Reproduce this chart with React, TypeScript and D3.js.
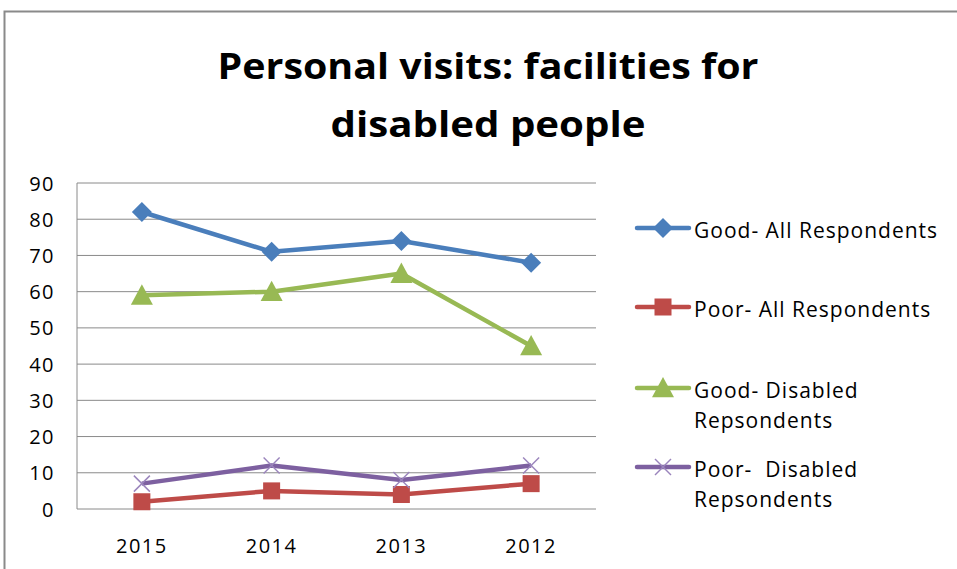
import React from "react";
import * as d3 from "d3";

const categories = ["2015", "2014", "2013", "2012"];
const goodAll = [82, 71, 74, 68];
const poorAll = [2, 5, 4, 7];
const goodDisabled = [59, 60, 65, 45];
const poorDisabled = [7, 12, 8, 12];
const yTicks = [0, 10, 20, 30, 40, 50, 60, 70, 80, 90];
const titleLines = ["Personal visits: facilities for", "disabled people"];

type Series = { name: string[]; values: number[]; color: string; marker: string };
const series: Series[] = [
  { name: ["Good- All Respondents"], values: goodAll, color: "#4A7EBB", marker: "diamond" },
  { name: ["Poor- All Respondents"], values: poorAll, color: "#BE4B48", marker: "square" },
  { name: ["Good- Disabled", "Repsondents"], values: goodDisabled, color: "#98B954", marker: "triangle" },
  { name: ["Poor-  Disabled", "Repsondents"], values: poorDisabled, color: "#7D60A0", marker: "x" },
];

const FONT = "'Open Sans', 'Liberation Sans', sans-serif";

function Marker({ type, x, y, color }: { type: string; x: number; y: number; color: string }) {
  if (type === "diamond") {
    const r = 10;
    return <path d={`M${x},${y - r}L${x + r},${y}L${x},${y + r}L${x - r},${y}Z`} fill={color} />;
  }
  if (type === "square") {
    const r = 8.5;
    return <rect x={x - r} y={y - r} width={2 * r} height={2 * r} fill={color} />;
  }
  if (type === "triangle") {
    const r = 11;
    return <path d={`M${x},${y - r}L${x + r},${y + r * 0.85}L${x - r},${y + r * 0.85}Z`} fill={color} />;
  }
  const r = 8;
  return (
    <g stroke="#9A84BC" strokeWidth={1.5}>
      <line x1={x - r} y1={y - r} x2={x + r} y2={y + r} />
      <line x1={x - r} y1={y + r} x2={x + r} y2={y - r} />
    </g>
  );
}

export default function App() {
  const W = 957, H = 569;
  const left = 77, right = 596, top = 183, bottom = 509;
  const x = d3.scaleBand<string>().domain(categories).range([left, right]);
  const y = d3.scaleLinear().domain([0, 90]).range([bottom, top]);
  const cx = (c: string) => (x(c) as number) + x.bandwidth() / 2;
  const line = d3.line<number>().x((_, i) => cx(categories[i])).y((v) => y(v));

  const legendY = [228, 307, 388, 467];

  return (
    <svg width={W} height={H} style={{ position: "absolute", left: 0, top: 0, background: "#fff" }}>
      <rect x={0} y={0} width={W} height={H} fill="#fff" />
      <path d={`M4.5,${H}V11.5H${W}`} fill="none" stroke="#8a8a8a" strokeWidth={2} />
      {titleLines.map((t, i) => (
        <text key={i} x={488} y={79 + i * 58} textAnchor="middle" fontFamily={FONT} fontWeight="bold" fontSize={35}
          textLength={i === 0 ? 541 : 315} lengthAdjust="spacingAndGlyphs" fill="#000">
          {t}
        </text>
      ))}
      {yTicks.map((t) => (
        <g key={t}>
          <line x1={left} x2={right} y1={y(t)} y2={y(t)} stroke="#8a8a8a" strokeWidth={1} />
          <text x={55} y={y(t) + 7.5} textAnchor="end" fontFamily={FONT} fontSize={20} letterSpacing={1.5} fill="#000">{t}</text>
        </g>
      ))}
      <line x1={left} x2={left} y1={top} y2={bottom} stroke="#8a8a8a" strokeWidth={1} />
      {categories.map((c) => (
        <text key={c} x={cx(c)} y={553} textAnchor="middle" fontFamily={FONT} fontSize={20} letterSpacing={1.5} fill="#000">{c}</text>
      ))}
      {series.map((s) => (
        <g key={s.name[0]}>
          <path d={line(s.values) || ""} fill="none" stroke={s.color} strokeWidth={4.5} strokeLinejoin="round" />
          {s.values.map((v, i) => (
            <Marker key={i} type={s.marker} x={cx(categories[i])} y={y(v)} color={s.color} />
          ))}
        </g>
      ))}
      {series.map((s, i) => (
        <g key={"lg" + i}>
          <line x1={637} x2={689} y1={legendY[i]} y2={legendY[i]} stroke={s.color} strokeWidth={4.5} strokeLinecap="round" />
          <Marker type={s.marker} x={663} y={legendY[i]} color={s.color} />
          {s.name.map((n, j) => (
            <text key={j} x={694} y={legendY[i] + 10 + j * 30} fontFamily={FONT} fontSize={21} letterSpacing={1} fill="#000" style={{ whiteSpace: "pre" }}>{n}</text>
          ))}
        </g>
      ))}
    </svg>
  );
}
